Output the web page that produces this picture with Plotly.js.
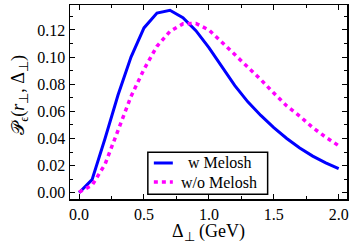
<!DOCTYPE html>
<html>
<head>
<meta charset="utf-8">
<script src="https://cdn.plot.ly/plotly-3.0.1.min.js"></script>
<style>html,body{margin:0;padding:0;background:#fff;}#chart{width:359px;height:251px;}</style>
</head>
<body>
<div id="chart"></div>
<script>
var delta = [0.0,0.1,0.2,0.3,0.4,0.5,0.6,0.7,0.8,0.9,1.0,1.1,1.2,1.3,1.4,1.5,1.6,1.7,1.8,1.9,2.0];
var wMelosh = [0.0,0.0097,0.040,0.072,0.100,0.1215,0.1325,0.1345,0.129,0.1195,0.107,0.0925,0.079,0.067,0.057,0.048,0.040,0.033,0.027,0.022,0.0178];
var woMelosh = [0.0005,0.0055,0.021,0.046,0.071,0.091,0.108,0.119,0.1245,0.1248,0.120,0.111,0.102,0.0925,0.0834,0.0735,0.064,0.0565,0.048,0.041,0.0347];
var seriesNames = ['w Melosh', 'w/o Melosh'];
var xTicks = [0, 0.5, 1.0, 1.5, 2.0];
var xTickText = ['0.0','0.5','1.0','1.5','2.0'];
var yTicks = [0,0.02,0.04,0.06,0.08,0.10,0.12];
var yTickText = ['0.00','0.02','0.04','0.06','0.08','0.10','0.12'];
var xTitle = 'Δ<sub>⊥</sub> (GeV)';
var yTitle = '𝒫<sub>ϵ</sub>(<i>r</i><sub>⊥</sub>, Δ<sub>⊥</sub>)';

var serif = "Liberation Serif";
var blue = '#0000ff', magenta = '#ff00ff';
var traces = [
  {x: delta, y: wMelosh, type: 'scatter', mode: 'lines', name: seriesNames[0],
   line: {color: blue, width: 3}},
  {x: delta, y: woMelosh, type: 'scatter', mode: 'lines', name: seriesNames[1],
   line: {color: magenta, width: 3.5, dash: '4px,4px'}}
];
var layout = {
  width: 359, height: 251,
  margin: {l: 70, r: 11.5, t: 5, b: 52},
  paper_bgcolor: '#fff', plot_bgcolor: '#fff',
  font: {family: serif, size: 16, color: '#000'},
  showlegend: false,
  xaxis: {range: [-0.07, 2.064], showgrid: false, zeroline: false,
          showline: true, linecolor: '#000', linewidth: 1.5, mirror: 'ticks',
          ticks: 'inside', ticklen: 5, tickcolor: '#000',
          tickvals: xTicks, ticktext: xTickText,
          minor: {dtick: 0.25, ticks: 'inside', ticklen: 3, tickcolor: '#000'},
          tickfont: {family: serif, size: 16}},
  yaxis: {range: [-0.0046, 0.1384], showgrid: false, zeroline: false,
          showline: true, linecolor: '#000', linewidth: 1.5, mirror: 'ticks',
          ticks: 'inside', ticklen: 5, tickcolor: '#000',
          tickvals: yTicks, ticktext: yTickText,
          minor: {dtick: 0.01, ticks: 'inside', ticklen: 3, tickcolor: '#000'},
          tickfont: {family: serif, size: 16}},
  shapes: [
    {type: 'rect', xref: 'paper', yref: 'paper', x0: 0.281, x1: 0.7135, y0: 0.0242, y1: 0.2407,
     line: {color: '#000', width: 1.5}, fillcolor: '#fff', layer: 'above'},
    {type: 'line', xref: 'paper', yref: 'paper', x0: 0.3027, x1: 0.3712, y0: 0.1856, y1: 0.1856,
     line: {color: blue, width: 3}, layer: 'above'},
    {type: 'line', xref: 'paper', yref: 'paper', x0: 0.3027, x1: 0.3712, y0: 0.0876, y1: 0.0876,
     line: {color: magenta, width: 3.5, dash: '4px,4px'}, layer: 'above'}
  ],
  annotations: [
    {text: seriesNames[0], xref: 'paper', yref: 'paper', x: 0.5405, y: 0.1856,
     xanchor: 'center', yanchor: 'middle', showarrow: false, font: {family: serif, size: 16}},
    {text: seriesNames[1], xref: 'paper', yref: 'paper', x: 0.5387, y: 0.0876,
     xanchor: 'center', yanchor: 'middle', showarrow: false, font: {family: serif, size: 16}},
    {text: xTitle, xref: 'paper', yref: 'paper', x: 0.499, y: -0.172,
     xanchor: 'center', yanchor: 'middle', showarrow: false, font: {family: serif, size: 18}},
    {text: yTitle, xref: 'paper', yref: 'paper', x: -0.185, y: 0.536, textangle: -90,
     xanchor: 'center', yanchor: 'middle', showarrow: false, font: {family: serif, size: 18}}
  ]
};
Plotly.newPlot('chart', traces, layout, {displayModeBar: false, staticPlot: true});
</script>
</body>
</html>
